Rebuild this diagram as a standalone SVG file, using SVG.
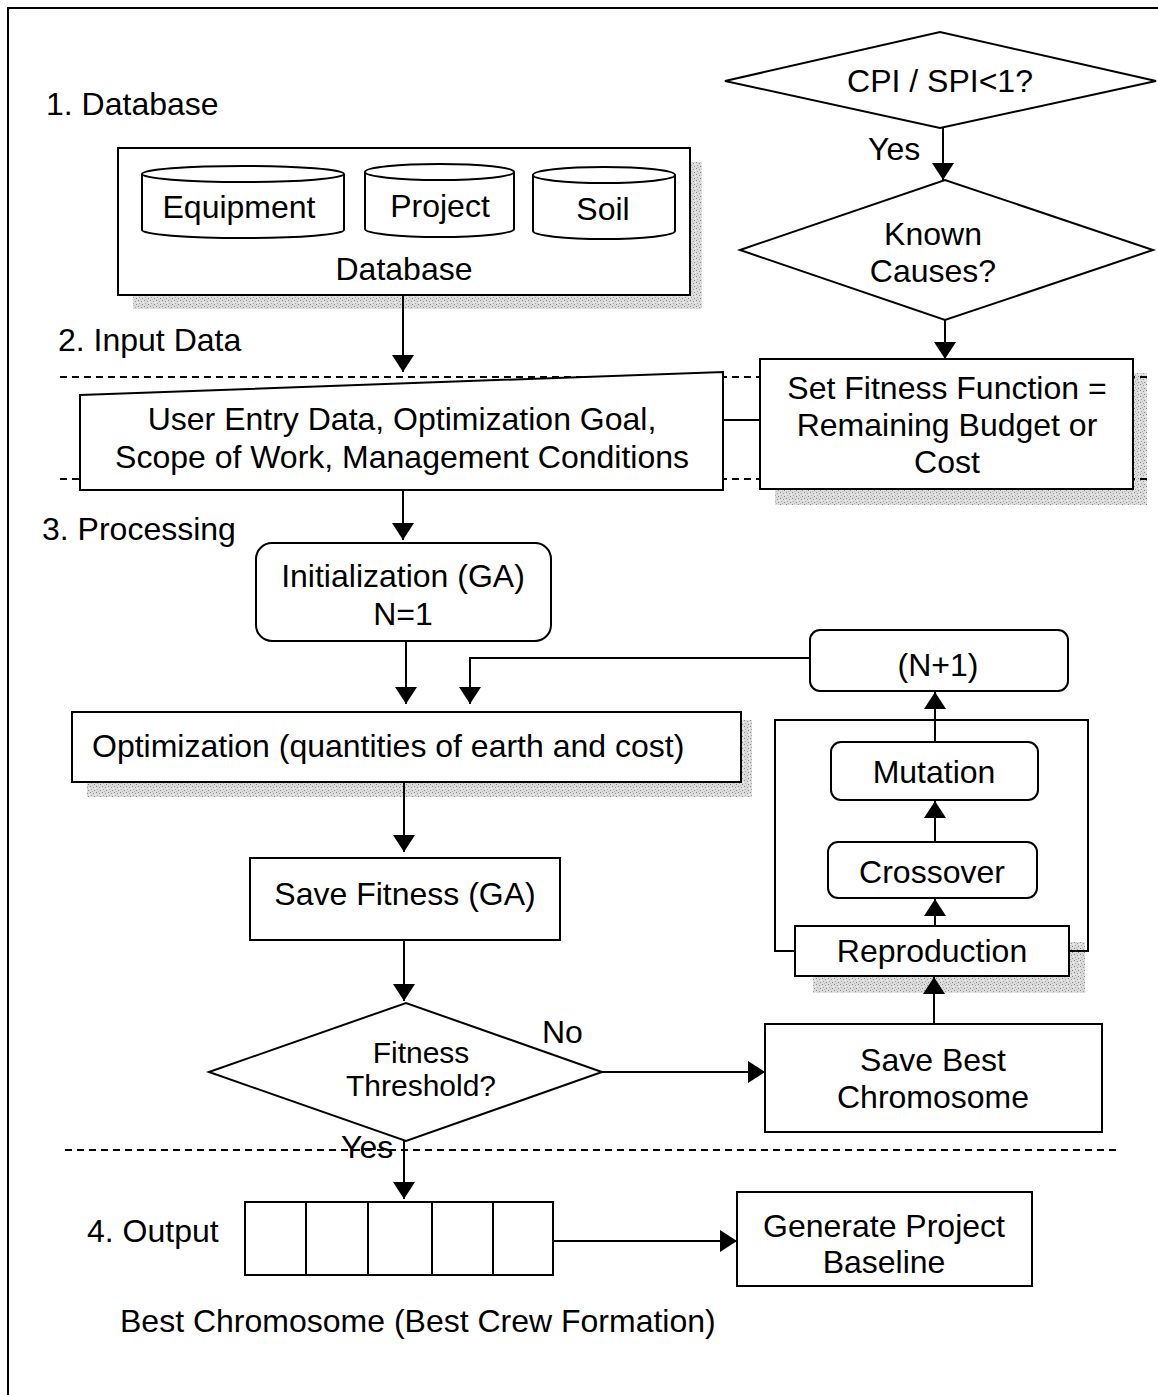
<svg xmlns="http://www.w3.org/2000/svg" width="1158" height="1395" viewBox="0 0 1158 1395">
  <style>
    .t { font-family: "Liberation Sans", Arial, sans-serif; font-size: 32px; fill: #000; }
    .c { text-anchor: middle; }
    .sm { font-size: 30px; }
    .box { fill: #fff; stroke: #000; stroke-width: 2; }
    .ln { fill: none; stroke: #000; stroke-width: 2; }
    .arr { fill: none; stroke: #000; stroke-width: 2; marker-end: url(#head); }
    .dash { fill: none; stroke: #000; stroke-width: 2; stroke-dasharray: 7 5; }
    .shadow { fill: url(#grain); }
  </style>
  <defs>
    <marker id="head" markerUnits="userSpaceOnUse" markerWidth="18" markerHeight="22" refX="17" refY="11" orient="auto">
      <path d="M0,0 L17,11 L0,22 z" fill="#000"/>
    </marker>
    <pattern id="grain" width="6" height="6" patternUnits="userSpaceOnUse">
      <rect width="6" height="6" fill="#dcdcdc"/>
      <rect x="0" y="0" width="1" height="1" fill="#888"/>
      <rect x="3" y="1" width="1" height="1" fill="#999"/>
      <rect x="1" y="3" width="1" height="1" fill="#aaa"/>
      <rect x="4" y="4" width="1" height="1" fill="#888"/>
      <rect x="2" y="5" width="1" height="1" fill="#bbb"/>
      <rect x="5" y="2" width="1" height="1" fill="#f4f4f4"/>
    </pattern>
  </defs>

  <rect width="1158" height="1395" fill="#fff"/>

  <!-- frame -->
  <path class="ln" d="M8,1395 V8 H1158"/>

  <!-- drop shadows -->
  <g id="shadows">
    <rect class="shadow" x="133" y="295" width="569" height="14"/>
    <rect class="shadow" x="690" y="162" width="12" height="147"/>
    <rect class="shadow" x="775" y="489" width="372" height="16"/>
    <rect class="shadow" x="1133" y="373" width="14" height="132"/>
    <rect class="shadow" x="87" y="782" width="665" height="15"/>
    <rect class="shadow" x="741" y="720" width="11" height="77"/>
    <rect class="shadow" x="813" y="976" width="272" height="17"/>
    <rect class="shadow" x="1069" y="942" width="16" height="51"/>
  </g>

  <!-- stage separators -->
  <g id="separators">
    <line class="dash" x1="60" y1="377" x2="1150" y2="377"/>
    <line class="dash" x1="60" y1="479" x2="1150" y2="479"/>
    <line class="dash" x1="65" y1="1150" x2="1118" y2="1150"/>
  </g>

  <!-- stage labels -->
  <g id="labels">
    <text class="t" x="46" y="115">1. Database</text>
    <text class="t" x="58" y="351">2. Input Data</text>
    <text class="t" x="42" y="540">3. Processing</text>
    <text class="t" x="87" y="1242">4. Output</text>
    <text class="t" x="120" y="1332">Best Chromosome (Best Crew Formation)</text>
  </g>

  <g id="database">
    <rect class="box" x="118" y="148" width="572" height="147"/>
    <text class="t c" x="404" y="280">Database</text>
  </g>
  <g id="db-equipment">
    <path class="box" d="M142,174 A101,8 0 0 1 344,174 V230 A101,8 0 0 1 142,230 Z"/>
    <path class="ln" d="M142,174 A101,8 0 0 0 344,174"/>
    <text class="t c" x="239" y="218">Equipment</text>
  </g>
  <g id="db-project">
    <path class="box" d="M365,172 A74.5,8 0 0 1 514,172 V229 A74.5,8 0 0 1 365,229 Z"/>
    <path class="ln" d="M365,172 A74.5,8 0 0 0 514,172"/>
    <text class="t c" x="440" y="217">Project</text>
  </g>
  <g id="db-soil">
    <path class="box" d="M533,175 A71,8 0 0 1 675,175 V231 A71,8 0 0 1 533,231 Z"/>
    <path class="ln" d="M533,175 A71,8 0 0 0 675,175"/>
    <text class="t c" x="603" y="220">Soil</text>
  </g>

  <g id="cpi-check">
    <polygon class="box" points="725,81 940,32 1156,81 940,128"/>
    <text class="t c" x="940" y="92">CPI / SPI&lt;1?</text>
  </g>

  <g id="known-causes">
    <polygon class="box" points="740,250 945,180 1153,250 945,320"/>
    <text class="t c" x="933" y="245">Known</text>
    <text class="t c" x="933" y="282">Causes?</text>
  </g>

  <g id="set-fitness">
    <rect class="box" x="760" y="359" width="373" height="130"/>
    <text class="t c" x="947" y="399">Set Fitness Function =</text>
    <text class="t c" x="947" y="436">Remaining Budget or</text>
    <text class="t c" x="947" y="473">Cost</text>
  </g>

  <g id="user-input">
    <polygon class="box" points="80,395 723,372 723,490 80,490"/>
    <text class="t c" x="402" y="430">User Entry Data, Optimization Goal,</text>
    <text class="t c" x="402" y="468">Scope of Work, Management Conditions</text>
  </g>

  <g id="initialization">
    <rect class="box" x="256" y="543" width="295" height="98" rx="16"/>
    <text class="t c" x="403" y="587">Initialization (GA)</text>
    <text class="t c" x="403" y="625">N=1</text>
  </g>

  <g id="optimization">
    <rect class="box" x="72" y="712" width="669" height="70"/>
    <text class="t" x="92" y="757">Optimization (quantities of earth and cost)</text>
  </g>

  <g id="save-fitness">
    <rect class="box" x="250" y="858" width="310" height="82"/>
    <text class="t c" x="405" y="905">Save Fitness (GA)</text>
  </g>

  <g id="fitness-threshold">
    <polygon class="box" points="209,1072 406,1003 602,1072 406,1141"/>
    <text class="t c sm" x="421" y="1063">Fitness</text>
    <text class="t c sm" x="421" y="1096">Threshold?</text>
  </g>

  <g id="save-best">
    <rect class="box" x="765" y="1024" width="337" height="108"/>
    <text class="t c" x="933" y="1071">Save Best</text>
    <text class="t c" x="933" y="1108">Chromosome</text>
  </g>

  <g id="ga-loop">
    <rect class="ln" x="775" y="720" width="313" height="231"/>
  </g>

  <g id="reproduction">
    <rect class="box" x="795" y="926" width="274" height="50"/>
    <text class="t c" x="932" y="962">Reproduction</text>
  </g>

  <g id="crossover">
    <rect class="box" x="828" y="842" width="209" height="56" rx="10"/>
    <text class="t c" x="932" y="883">Crossover</text>
  </g>

  <g id="mutation">
    <rect class="box" x="831" y="742" width="207" height="58" rx="10"/>
    <text class="t c" x="934" y="783">Mutation</text>
  </g>

  <g id="next-generation">
    <rect class="box" x="810" y="630" width="258" height="61" rx="10"/>
    <text class="t c" x="938" y="676">(N+1)</text>
  </g>

  <g id="best-chromosome">
    <rect class="box" x="245" y="1202" width="308" height="73"/>
    <path class="ln" d="M306,1202 V1275 M368,1202 V1275 M432,1202 V1275 M493,1202 V1275"/>
  </g>

  <g id="generate-baseline">
    <rect class="box" x="737" y="1192" width="295" height="94"/>
    <text class="t c" x="884" y="1237">Generate Project</text>
    <text class="t c" x="884" y="1273">Baseline</text>
  </g>

  <g id="connectors">
    <line class="arr" x1="403" y1="295" x2="403" y2="372"/>
    <line class="arr" x1="943" y1="128" x2="943" y2="180"/>
    <text class="t" x="868" y="160">Yes</text>
    <line class="arr" x1="945" y1="320" x2="945" y2="359"/>
    <line class="ln" x1="723" y1="420" x2="760" y2="420"/>
    <line class="arr" x1="403" y1="490" x2="403" y2="540"/>
    <line class="arr" x1="406" y1="641" x2="406" y2="704"/>
    <polyline class="arr" points="810,658 470,658 470,704"/>
    <line class="arr" x1="404" y1="782" x2="404" y2="852"/>
    <line class="arr" x1="404" y1="940" x2="404" y2="1001"/>
    <line class="arr" x1="602" y1="1072" x2="765" y2="1072"/>
    <text class="t" x="542" y="1043">No</text>
    <line class="arr" x1="934" y1="1024" x2="934" y2="977"/>
    <line class="arr" x1="935" y1="926" x2="935" y2="899"/>
    <line class="arr" x1="935" y1="842" x2="935" y2="801"/>
    <line class="arr" x1="935" y1="742" x2="935" y2="692"/>
    <line class="arr" x1="404" y1="1141" x2="404" y2="1199"/>
    <text class="t" x="341" y="1158">Yes</text>
    <line class="arr" x1="553" y1="1241" x2="737" y2="1241"/>
  </g>
</svg>
